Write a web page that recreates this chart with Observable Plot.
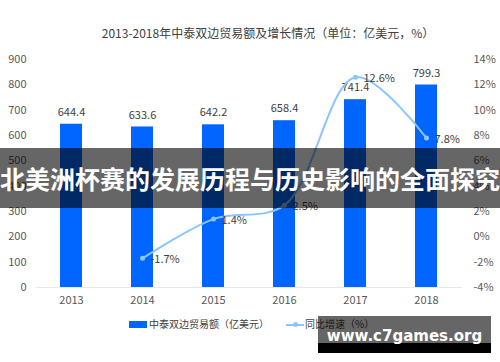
<!DOCTYPE html>
<html>
<head>
<meta charset="utf-8">
<script src="https://cdn.jsdelivr.net/npm/d3@7"></script>
<script src="https://cdn.jsdelivr.net/npm/@observablehq/plot@0.6"></script>
<style>
  html, body { margin: 0; padding: 0; background: #fff; }
  #wrap { position: relative; width: 500px; height: 362px; overflow: hidden; font-family: "Noto Sans CJK SC", "Noto Sans", sans-serif; }
  #chart { position: absolute; left: 0; top: 0; }
  .abs { position: absolute; white-space: nowrap; }
</style>
</head>
<body>
<div id="wrap">
  <div id="chart"></div>
  <div id="title" class="abs"></div>
  <div id="legend"></div>
  <div id="banner" class="abs"></div>
  <div id="mark" class="abs"></div>
</div>
<script>
const titleText = "2013-2018年中泰双边贸易额及增长情况（单位：亿美元，%）";
const years = ["2013", "2014", "2015", "2016", "2017", "2018"];
const trade = [644.4, 633.6, 642.2, 658.4, 741.4, 799.3];
const growthYears = ["2014", "2015", "2016", "2017", "2018"];
const growth = [-1.7, 1.4, 2.5, 12.6, 7.8];
const leftTicks = [0, 100, 200, 300, 400, 500, 600, 700, 800, 900];
const rightTicks = [-4, -2, 0, 2, 4, 6, 8, 10, 12, 14];
const legendLabels = ["中泰双边贸易额（亿美元）", "同比增速（%）"];
const bannerText = "北美洲杯赛的发展历程与历史影响的全面探究";
const watermarkText = "www.c7games.org";

const barColor = "#0066ff";
const lineColor = "#8cc4ff";
const textColor = "#404040";
const axisColor = "#595959";

// map percent onto the left (amount) scale: -4%..14% -> 0..900
const pctToLeft = p => (p + 4) * 50;
const leftToPct = v => Math.round(v / 50 - 4);

const rows = years.map((year, i) => ({year, trade: trade[i]}));
const growthRows = growthYears.map((year, i) => ({year, g: growth[i], v: pctToLeft(growth[i])}));

const plot = Plot.plot({
  width: 500,
  height: 362,
  marginLeft: 36,
  marginRight: 38,
  marginTop: 59,
  marginBottom: 75,
  style: {fontFamily: "'Noto Sans CJK SC', 'Noto Sans', sans-serif", fontSize: "11px", background: "transparent"},
  x: {domain: years, paddingInner: 0.69, paddingOuter: 0.345, label: null},
  y: {domain: [0, 900], label: null},
  marks: [
    Plot.ruleY([0], {stroke: "#e8e8e8", strokeWidth: 1}),
    Plot.barY(rows, {x: "year", y: "trade", fill: barColor}),
    Plot.text(rows, {x: "year", y: "trade", text: d => d.trade.toFixed(1), dy: -12, fill: textColor, fontSize: 11}),
    Plot.line(growthRows, {x: "year", y: "v", stroke: lineColor, strokeWidth: 2, curve: "catmull-rom"}),
    Plot.dot(growthRows, {x: "year", y: "v", r: 2.5, fill: lineColor, stroke: "none"}),
    Plot.text(growthRows, {x: "year", y: "v", text: d => `${d.g}%`, dx: 8, dy: 1, textAnchor: "start", fill: textColor, fontSize: 11}),
    Plot.axisY({ticks: leftTicks, tickSize: 0, tickPadding: 10, fill: axisColor, fontSize: 11, label: null}),
    Plot.axisY({anchor: "right", ticks: rightTicks.map(pctToLeft), tickFormat: v => `${leftToPct(v)}%`, tickSize: 0, tickPadding: 11, fill: axisColor, fontSize: 11, label: null}),
    Plot.axisX({tickSize: 0, tickPadding: 9, fill: axisColor, fontSize: 11, label: null})
  ]
});
document.getElementById("chart").appendChild(plot);

// title
const t = document.getElementById("title");
t.textContent = titleText;
Object.assign(t.style, {left: "18px", width: "500px", top: "24px", textAlign: "center", fontSize: "12px", lineHeight: "18px", color: textColor});

// legend
const lg = document.getElementById("legend");
lg.innerHTML = `
  <div class="abs" style="left:129px;top:321px;width:18px;height:7px;background:${barColor}"></div>
  <div class="abs" style="left:149px;top:316px;line-height:16px;font-size:10px;color:${textColor}">${legendLabels[0]}</div>
  <div class="abs" style="left:286px;top:323.5px;width:18px;height:2px;background:${lineColor}"></div>
  <div class="abs" style="left:292.5px;top:322px;width:5px;height:5px;border-radius:50%;background:${lineColor}"></div>
  <div class="abs" style="left:305px;top:316px;line-height:16px;font-size:10px;color:${textColor}">${legendLabels[1]}</div>
`;

// overlay banner
const b = document.getElementById("banner");
b.textContent = bannerText;
Object.assign(b.style, {left: "0px", top: "148px", width: "500px", height: "60px", lineHeight: "60px", background: "rgba(0,0,0,0.6)", color: "#fff", fontWeight: "bold", fontSize: "25px", textAlign: "center", fontFamily: "'Noto Sans CJK SC', sans-serif"});

// watermark
const m = document.getElementById("mark");
m.textContent = watermarkText;
Object.assign(m.style, {left: "318px", top: "316px", width: "173px", height: "37px", boxSizing: "border-box", paddingTop: "10px", lineHeight: "20px", background: "linear-gradient(to bottom, rgba(0,0,0,0.6) 0px, rgba(0,0,0,0.6) 27px, #000 27px, #000 37px)", color: "#fff", fontWeight: "bold", fontSize: "15px", textAlign: "center", fontFamily: "'DejaVu Sans', sans-serif"});
</script>
</body>
</html>
